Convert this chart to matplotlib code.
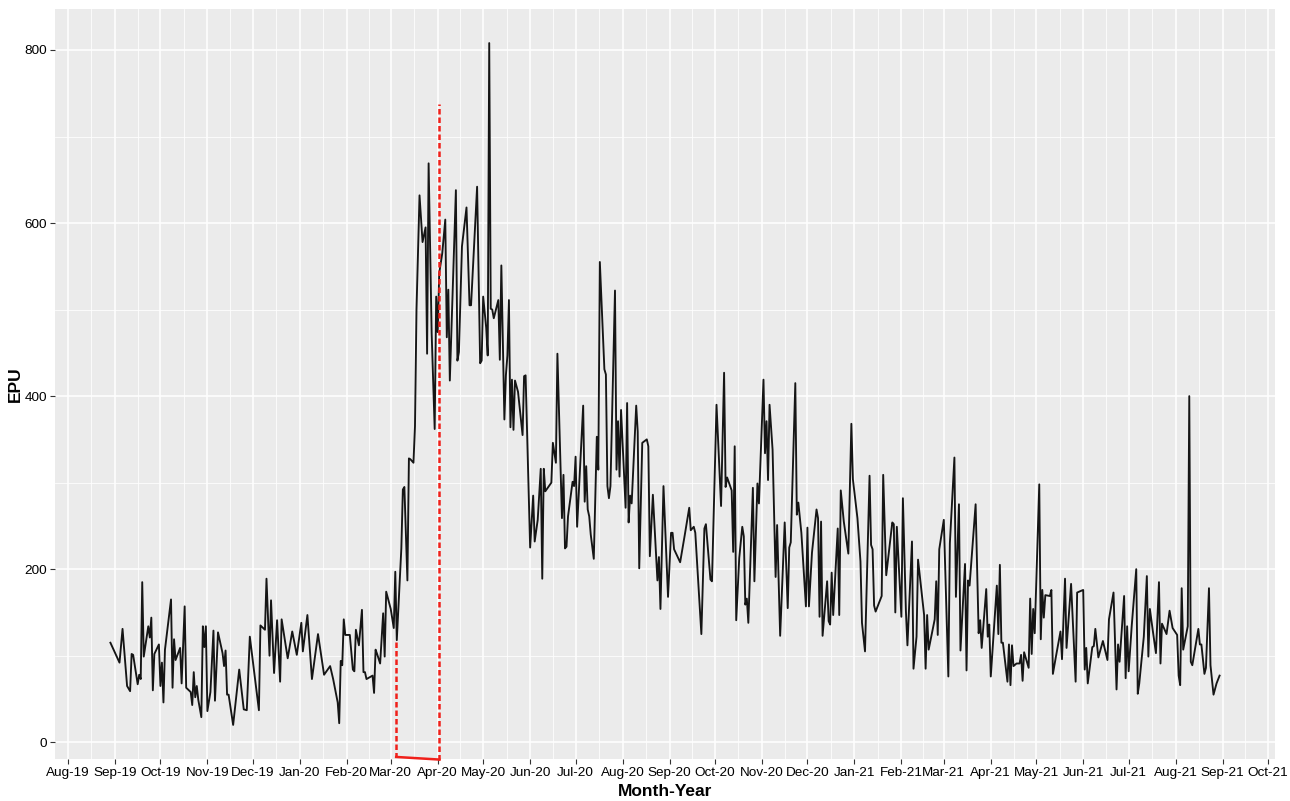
import numpy as np
import pandas as pd
import matplotlib
matplotlib.use("Agg")
import matplotlib.pyplot as plt
import matplotlib.dates as mdates

# Daily EPU index (day = days since 2019-08-01)
day = [
    28, 34, 36, 39, 41, 42, 43, 46, 47, 48, 49, 50, 53, 54, 55, 56, 57, 60, 61, 62,
    63, 64, 68, 69, 70, 71, 74, 75, 77, 78, 81, 82, 83, 84, 85, 86, 88, 89, 90, 91,
    92, 94, 96, 97, 99, 102, 103, 104, 105, 106, 109, 113, 116, 118, 120, 126, 127, 130, 131, 133,
    134, 136, 138, 140, 141, 145, 148, 151, 154, 155, 158, 161, 165, 169, 173, 175, 178, 179, 180, 181,
    182, 183, 186, 188, 189, 190, 192, 194, 195, 196, 197, 201, 202, 203, 204, 206, 208, 209, 210, 213,
    215, 216, 217, 220, 221, 222, 224, 225, 226, 228, 229, 230, 232, 234, 236, 237, 238, 240, 242, 243,
    244, 245, 247, 249, 250, 251, 252, 256, 257, 258, 260, 263, 265, 266, 270, 272, 273, 274, 276, 277,
    278, 279, 280, 281, 284, 285, 286, 288, 289, 290, 291, 292, 293, 294, 295, 297, 300, 301, 302, 305,
    307, 308, 310, 312, 313, 314, 315, 319, 320, 322, 323, 326, 327, 328, 329, 330, 333, 334, 335, 336,
    340, 341, 342, 343, 344, 345, 347, 349, 350, 351, 354, 355, 356, 357, 358, 361, 362, 363, 364, 365,
    368, 369, 370, 371, 372, 375, 376, 377, 379, 382, 383, 384, 386, 389, 390, 391, 393, 396, 398, 399,
    400, 404, 407, 410, 411, 413, 414, 418, 420, 421, 424, 425, 428, 431, 433, 434, 435, 438, 439, 440,
    441, 443, 445, 446, 447, 448, 449, 452, 453, 455, 456, 459, 460, 461, 462, 463, 465, 467, 468, 470,
    473, 475, 476, 477, 480, 481, 482, 484, 487, 488, 489, 491, 494, 495, 496, 497, 498, 501, 502, 503,
    504, 505, 508, 509, 510, 512, 515, 517, 518, 521, 523, 524, 526, 529, 530, 531, 532, 533, 537, 538,
    540, 544, 545, 546, 547, 550, 551, 553, 554, 557, 558, 560, 561, 565, 566, 567, 568, 572, 573, 574,
    575, 578, 581, 582, 585, 586, 588, 589, 592, 593, 594, 595, 599, 601, 602, 603, 606, 607, 608, 609,
    613, 614, 615, 616, 617, 620, 621, 622, 623, 624, 626, 628, 629, 630, 631, 634, 635, 636, 637, 638,
    641, 642, 643, 644, 645, 648, 649, 650, 652, 655, 656, 658, 659, 662, 665, 666, 670, 671, 672, 673,
    676, 677, 678, 680, 683, 686, 687, 690, 692, 693, 694, 697, 698, 699, 700, 702, 705, 706, 707, 710,
    712, 713, 714, 716, 718, 720, 721, 722, 725, 727, 729, 732, 733, 734, 735, 736, 739, 740, 741, 742,
    746, 747, 748, 750, 751, 753, 754, 756, 758, 760,
]
epu = [
    115, 92, 131, 65, 59, 102, 101, 67, 78, 73, 185, 99, 134, 121, 144, 60, 102, 113, 65, 92,
    46, 107, 165, 63, 119, 95, 109, 68, 157, 63, 58, 43, 81, 52, 65, 49, 29, 134, 110, 134,
    36, 58, 129, 48, 127, 103, 88, 106, 55, 55, 20, 84, 38, 37, 122, 37, 135, 130, 189, 100,
    164, 80, 141, 70, 142, 97, 128, 101, 138, 105, 147, 73, 125, 78, 88, 73, 46, 22, 94, 89,
    142, 124, 124, 84, 82, 130, 112, 153, 81, 81, 73, 77, 57, 107, 102, 91, 149, 99, 174, 154,
    132, 197, 118, 224, 292, 295, 187, 328, 327, 323, 365, 500, 632, 578, 595, 449, 669, 473, 362, 515,
    474, 542, 565, 604, 468, 523, 418, 638, 441, 451, 573, 618, 505, 505, 642, 438, 441, 515, 479, 447,
    808, 501, 500, 490, 511, 442, 551, 373, 424, 447, 511, 364, 419, 361, 418, 405, 355, 423, 424, 225,
    285, 232, 257, 316, 189, 316, 290, 300, 346, 323, 449, 259, 309, 224, 226, 261, 301, 296, 330, 249,
    389, 278, 319, 269, 261, 240, 212, 353, 315, 555, 431, 425, 296, 282, 296, 522, 315, 371, 307, 384,
    271, 392, 254, 285, 276, 389, 359, 201, 346, 350, 342, 215, 286, 187, 214, 154, 296, 168, 242, 242,
    223, 208, 239, 271, 245, 249, 242, 125, 247, 252, 188, 186, 390, 273, 427, 295, 306, 291, 220, 342,
    141, 213, 249, 238, 159, 166, 138, 294, 186, 299, 276, 419, 334, 371, 303, 390, 338, 191, 251, 123,
    254, 155, 225, 231, 415, 263, 277, 242, 157, 248, 157, 219, 269, 259, 145, 255, 123, 186, 140, 136,
    196, 147, 247, 147, 291, 255, 218, 368, 304, 259, 209, 138, 105, 308, 228, 223, 158, 151, 169, 309,
    193, 254, 252, 150, 249, 145, 282, 151, 112, 232, 85, 122, 211, 147, 85, 147, 107, 142, 186, 124,
    223, 257, 76, 230, 329, 168, 275, 106, 206, 83, 187, 181, 275, 126, 141, 109, 177, 122, 136, 76,
    181, 125, 205, 115, 115, 70, 113, 66, 112, 88, 91, 91, 101, 71, 104, 86, 166, 102, 154, 126,
    298, 119, 176, 144, 170, 169, 176, 79, 99, 128, 96, 189, 109, 183, 70, 173, 176, 84, 109, 68,
    110, 111, 131, 98, 117, 95, 142, 173, 61, 113, 93, 169, 74, 134, 82, 134, 200, 56, 68, 122,
    192, 99, 154, 128, 103, 185, 91, 137, 125, 152, 132, 124, 77, 66, 178, 107, 134, 400, 93, 89,
    131, 113, 113, 79, 86, 178, 89, 55, 68, 77,
]

# highlighted window (red bracket)
mark_day = [216.6, 245.0]
mark_top = [116, 738]
mark_bottom = [-17, -20]

origin = pd.Timestamp("2019-08-01")
dates = origin + pd.to_timedelta(day, unit="D")
mark_dates = origin + pd.to_timedelta(mark_day, unit="D")

fig = plt.figure(figsize=(12.9, 8.01), dpi=100)
ax = fig.add_axes([0.0426, 0.0524, 0.9458, 0.9364])
ax.set_facecolor("#EBEBEB")
for s in ax.spines.values():
    s.set_visible(False)

ax.plot(dates, epu, color="#151515", lw=1.35, zorder=3)

# red bracket: dashed sides, solid base
red = "#F0201A"
ax.plot([mark_dates[0], mark_dates[0]], [mark_top[0], mark_bottom[0]],
        color=red, lw=1.8, ls=(0, (2.2, 1.2)), zorder=4, clip_on=False)
ax.plot([mark_dates[0], mark_dates[1]], mark_bottom,
        color=red, lw=1.8, zorder=4, clip_on=False)
ax.plot([mark_dates[1], mark_dates[1]], [mark_bottom[1], mark_top[1]],
        color=red, lw=1.8, ls=(0, (2.2, 1.2)), zorder=4, clip_on=False)

months = pd.date_range("2019-08-01", "2021-10-01", freq="MS")
ax.set_xticks(months)
ax.xaxis.set_major_formatter(mdates.DateFormatter("%b-%y"))
mids = [months[i] + (months[i + 1] - months[i]) / 2 for i in range(len(months) - 1)]
ax.set_xticks(mids, minor=True)
ax.set_yticks([0, 200, 400, 600, 800])
ax.set_yticks([100, 300, 500, 700], minor=True)

# axes limits like ggplot's 5% expansion (set after ticks so they stick)
x0 = dates[0] - pd.Timedelta(days=36.6)
x1 = dates[-1] + pd.Timedelta(days=36.6)
ax.set_xlim(x0, x1)
ax.set_ylim(-19.4, 847.4)

ax.grid(which="major", color="white", lw=1.1)
ax.grid(which="minor", color="white", lw=0.55)
ax.set_axisbelow(True)

ax.tick_params(which="major", length=3.5, width=0.8, color="#333333",
               labelsize=9.7, labelcolor="black", pad=2)
ax.tick_params(which="minor", length=0)
for lab in ax.get_xticklabels() + ax.get_yticklabels():
    lab.set_fontfamily("Liberation Sans")

ax.set_xlabel("Month-Year", fontsize=12.5, fontweight="bold",
              fontfamily="Liberation Sans", labelpad=3.5)
ax.set_ylabel("EPU", fontsize=12.5, fontweight="bold",
              fontfamily="Liberation Sans", labelpad=1.5)

fig.savefig("out.png", dpi=100)
